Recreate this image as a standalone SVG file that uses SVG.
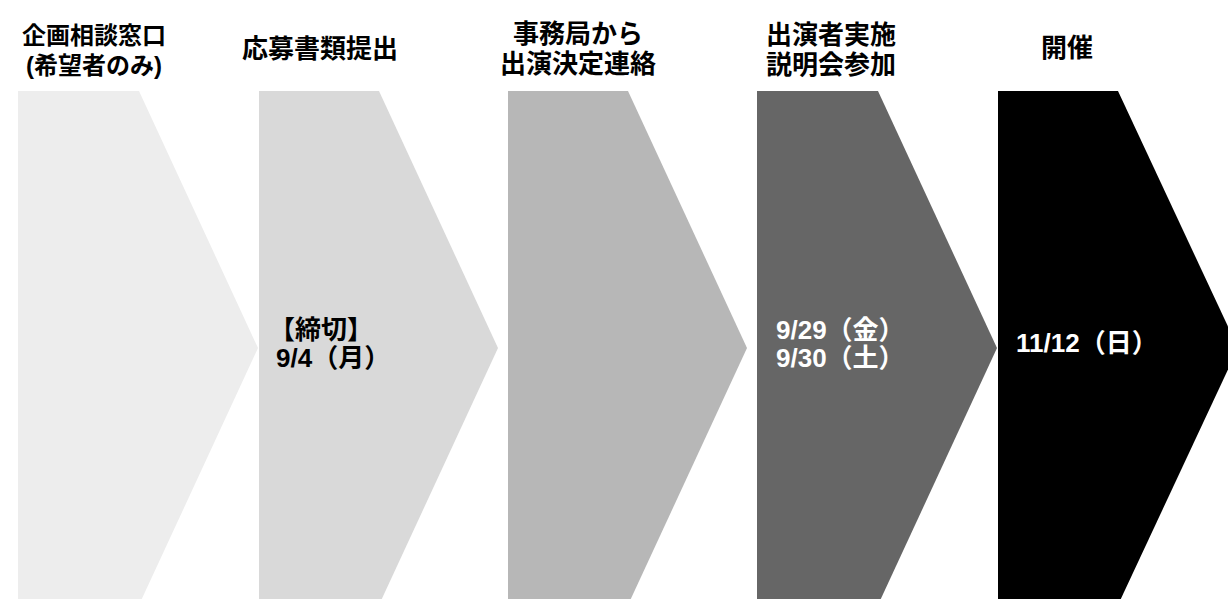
<svg xmlns="http://www.w3.org/2000/svg" width="1228" height="599" viewBox="0 0 1228 599">
<style>
text{font-family:"Liberation Sans","Noto Sans CJK JP",sans-serif;font-weight:bold;}
.h{font-size:26px;fill:#000;text-anchor:middle;}
.b{font-size:26px;}
</style>
<rect width="1228" height="599" fill="#fff"/>
<g id="step1">
<polygon points="18,91 139,91 258,348 139,605 18,605" fill="#ededed"/>
<text class="h" x="94" y="44" style="font-size:24px">企画相談窓口</text>
<text class="h" x="94" y="74" style="font-size:24px">(希望者のみ)</text>
</g>
<g id="step2">
<polygon points="259,91 379,91 498,348 379,605 259,605" fill="#d9d9d9"/>
<text class="h" x="320" y="58">応募書類提出</text>
<text class="b" x="269" y="339" fill="#000">【締切】</text>
<text class="b" x="276" y="367" fill="#000">9/4（月）</text>
</g>
<g id="step3">
<polygon points="508,91 628,91 747,348 628,605 508,605" fill="#b7b7b7"/>
<text class="h" x="578" y="43">事務局から</text>
<text class="h" x="578" y="73">出演決定連絡</text>
</g>
<g id="step4">
<polygon points="757,91 878,91 997,348 878,605 757,605" fill="#666666"/>
<text class="h" x="831" y="44">出演者実施</text>
<text class="h" x="831" y="74">説明会参加</text>
<text class="b" x="776" y="339" fill="#fff">9/29（金）</text>
<text class="b" x="776" y="367" fill="#fff">9/30（土）</text>
</g>
<g id="step5">
<polygon points="998,91 1118,91 1238,348 1118,605 998,605" fill="#000000"/>
<text class="h" x="1067" y="57">開催</text>
<text class="b" x="1016" y="352" fill="#fff">11/12（日）</text>
</g>
<g id="connectors"></g>
</svg>
